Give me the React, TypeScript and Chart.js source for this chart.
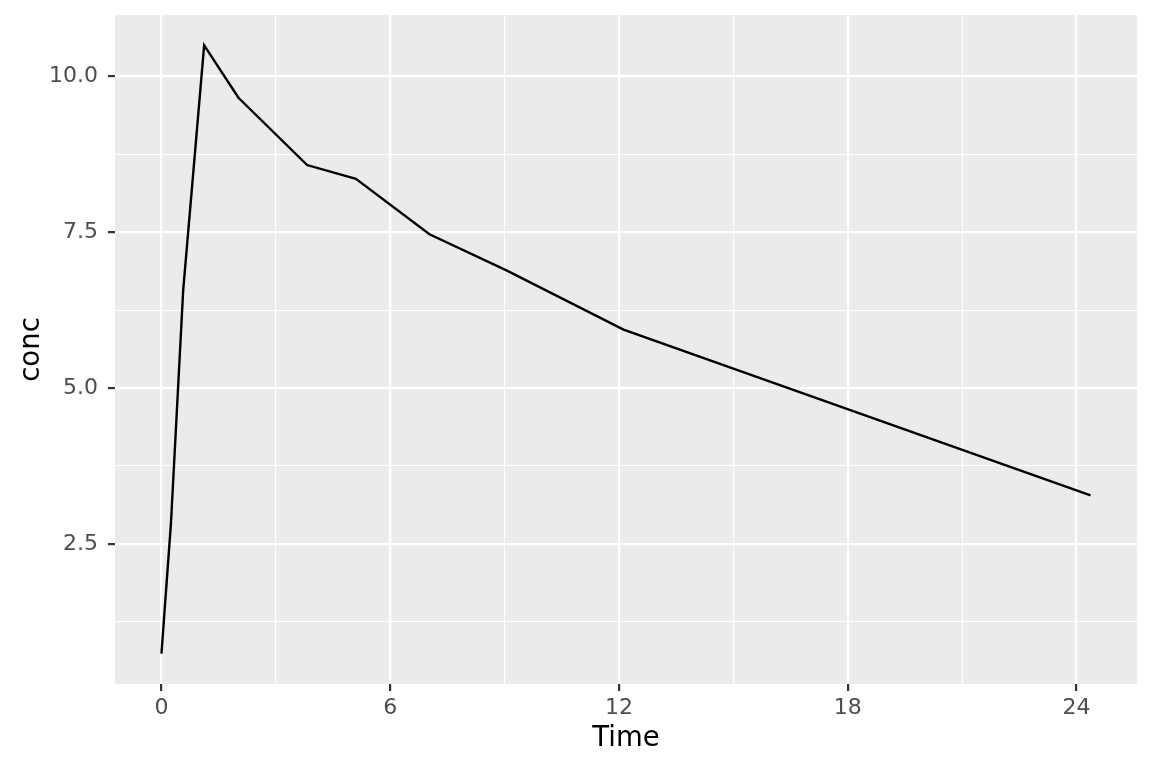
import { Chart, registerables } from "chart.js";
import { useEffect, useRef } from "react";

Chart.register(...registerables);

// Theoph, subject 1
const times = [0, 0.25, 0.57, 1.12, 2.02, 3.82, 5.1, 7.03, 9.05, 12.12, 24.37];
const conc = [0.74, 2.84, 6.57, 10.5, 9.66, 8.58, 8.36, 7.47, 6.89, 5.94, 3.28];
const xTicks = [0, 3, 6, 9, 12, 15, 18, 21, 24];
const xMajor = [0, 6, 12, 18, 24];
const yTicks = [1.25, 2.5, 3.75, 5, 6.25, 7.5, 8.75, 10];
const yMajor = [2.5, 5, 7.5, 10];

const FONT = "'DejaVu Sans', sans-serif";

const panelBg = {
    id: "panelBg",
    beforeDraw(chart: Chart) {
        const { ctx, chartArea } = chart;
        ctx.save();
        ctx.fillStyle = "#EBEBEB";
        ctx.fillRect(chartArea.left, chartArea.top, chartArea.right - chartArea.left, chartArea.bottom - chartArea.top);
        ctx.restore();
    },
};

const isMajor = (list: number[], v: number) => list.some((m) => Math.abs(m - v) < 1e-6);

export default function App() {
    const canvasRef = useRef<HTMLCanvasElement>(null);

    useEffect(() => {
        document.body.style.margin = "0";
        if (canvasRef.current === null) return;
        const xSpan = 24.37 - 0;
        const ySpan = 10.5 - 0.74;
        const chart = new Chart(canvasRef.current, {
            type: "scatter",
            data: {
                datasets: [
                    {
                        data: times.map((t, i) => ({ x: t, y: conc[i] })),
                        showLine: true,
                        borderColor: "#000000",
                        borderWidth: 2.4,
                        pointRadius: 0,
                        tension: 0,
                    },
                ],
            },
            options: {
                animation: false,
                responsive: false,
                layout: { padding: { left: 0, right: 15, top: 15, bottom: 0 } },
                plugins: { legend: { display: false }, tooltip: { enabled: false } },
                scales: {
                    x: {
                        type: "linear",
                        min: 0 - xSpan * 0.05,
                        max: 24.37 + xSpan * 0.05,
                        afterBuildTicks: (scale: any) => {
                            scale.ticks = xTicks.map((v) => ({ value: v }));
                        },
                        afterFit: (scale: any) => {
                            scale.height = 84;
                            scale.paddingLeft = 0;
                            scale.paddingRight = 0;
                        },
                        border: { display: false },
                        grid: {
                            color: "#FFFFFF",
                            lineWidth: (ctx: any) => (isMajor(xMajor, ctx.tick.value) ? 2.2 : 1.1),
                            tickColor: (ctx: any) => (isMajor(xMajor, ctx.tick.value) ? "#333333" : "rgba(0,0,0,0)"),
                            tickLength: 7,
                            tickWidth: 2.2,
                        },
                        ticks: {
                            autoSkip: false,
                            maxRotation: 0,
                            padding: 4,
                            color: "#4D4D4D",
                            font: { family: FONT, size: 22 },
                            callback: (v: any) => (isMajor(xMajor, Number(v)) ? String(v) : ""),
                        },
                        title: {
                            display: true,
                            text: "Time",
                            color: "#000000",
                            font: { family: FONT, size: 27.5 },
                            padding: { top: 0, bottom: 13 },
                        },
                    },
                    y: {
                        type: "linear",
                        min: 0.74 - ySpan * 0.05,
                        max: 10.5 + ySpan * 0.05,
                        afterBuildTicks: (scale: any) => {
                            scale.ticks = yTicks.map((v) => ({ value: v }));
                        },
                        afterFit: (scale: any) => {
                            scale.width = 115;
                            scale.paddingTop = 0;
                            scale.paddingBottom = 0;
                        },
                        border: { display: false },
                        grid: {
                            color: "#FFFFFF",
                            lineWidth: (ctx: any) => (isMajor(yMajor, ctx.tick.value) ? 2.2 : 1.1),
                            tickColor: (ctx: any) => (isMajor(yMajor, ctx.tick.value) ? "#333333" : "rgba(0,0,0,0)"),
                            tickLength: 7,
                            tickWidth: 2.2,
                        },
                        ticks: {
                            autoSkip: false,
                            padding: 10,
                            color: "#4D4D4D",
                            font: { family: FONT, size: 22 },
                            callback: (v: any) => (isMajor(yMajor, Number(v)) ? Number(v).toFixed(1) : ""),
                        },
                        title: {
                            display: true,
                            text: "conc",
                            color: "#000000",
                            font: { family: FONT, size: 27.5 },
                            padding: { top: 15, bottom: 0 },
                        },
                    },
                },
            },
            plugins: [panelBg],
        });
        return () => {
            chart.destroy();
        };
    }, []);

    return (
        <div style={{ width: 1152, height: 768, background: "#FFFFFF" }}>
            <canvas ref={canvasRef} width={1152} height={768} style={{ width: 1152, height: 768 }} />
        </div>
    );
}
